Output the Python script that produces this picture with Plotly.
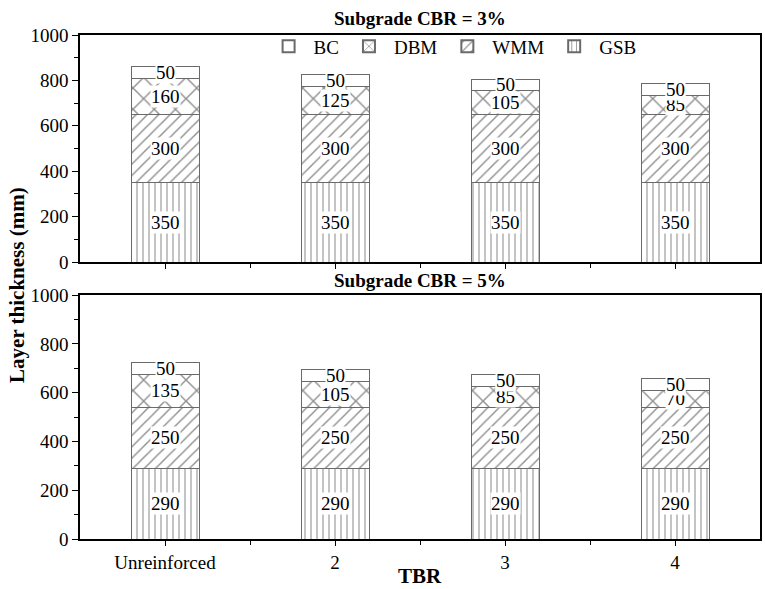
import plotly.graph_objects as go
from plotly.subplots import make_subplots

categories = ["Unreinforced", "2", "3", "4"]
layers = ["GSB", "WMM", "DBM", "BC"]
patterns = {"GSB": "|", "WMM": "/", "DBM": "x", "BC": ""}
pattern_sizes = {"GSB": 6, "WMM": 8, "DBM": 15, "BC": 8}

cbr3_gsb = [350, 350, 350, 350]
cbr3_wmm = [300, 300, 300, 300]
cbr3_dbm = [160, 125, 105, 85]
cbr3_bc = [50, 50, 50, 50]

cbr5_gsb = [290, 290, 290, 290]
cbr5_wmm = [250, 250, 250, 250]
cbr5_dbm = [135, 105, 85, 70]
cbr5_bc = [50, 50, 50, 50]

panels = [
    {"GSB": cbr3_gsb, "WMM": cbr3_wmm, "DBM": cbr3_dbm, "BC": cbr3_bc},
    {"GSB": cbr5_gsb, "WMM": cbr5_wmm, "DBM": cbr5_dbm, "BC": cbr5_bc},
]
panel_titles = ["Subgrade CBR = 3%", "Subgrade CBR = 5%"]

FONT = "Liberation Serif, Times New Roman, serif"
xpos = list(range(len(categories)))

fig = make_subplots(rows=2, cols=1, shared_xaxes=False, vertical_spacing=0.0)

annotations = []
for r, data in enumerate(panels, start=1):
    base = [0] * len(categories)
    for layer in layers:
        vals = data[layer]
        fig.add_trace(go.Bar(
            x=xpos, y=vals, name=layer, width=0.4,
            marker=dict(color="white", line=dict(color="#6a6a6a", width=1),
                        pattern=dict(shape=patterns[layer], fgcolor="#222222",
                                     bgcolor="white", size=pattern_sizes[layer], solidity=0.18)),
            showlegend=(r == 1), legendrank={"BC": 1, "DBM": 2, "WMM": 3, "GSB": 4}[layer],
        ), row=r, col=1)
        xref = "x" if r == 1 else "x2"
        yref = "y" if r == 1 else "y2"
        for i, v in enumerate(vals):
            annotations.append(dict(x=xpos[i], y=base[i] + v / 2, xref=xref, yref=yref,
                                    text=str(v), showarrow=False, bgcolor="white",
                                    borderpad=0, font=dict(family=FONT, size=19, color="black")))
            base[i] += v

# panel titles
annotations.append(dict(x=0.5, y=1.0, xref="paper", yref="paper", yanchor="bottom", yshift=4,
                        text="<b>" + panel_titles[0] + "</b>", showarrow=False,
                        font=dict(family=FONT, size=19, color="black")))
annotations.append(dict(x=0.5, y=0.484, xref="paper", yref="paper", yanchor="bottom", yshift=2,
                        text="<b>" + panel_titles[1] + "</b>", showarrow=False,
                        font=dict(family=FONT, size=19, color="black")))
annotations.append(dict(x=-0.092, y=0.505, xref="paper", yref="paper", textangle=-90,
                        xanchor="center", yanchor="middle",
                        text="<b>Layer thickness (mm)</b>", showarrow=False,
                        font=dict(family=FONT, size=21, color="black")))
annotations.append(dict(x=0.5, y=0, xref="paper", yref="paper", yanchor="top", yshift=-23,
                        text="<b>TBR</b>", showarrow=False,
                        font=dict(family=FONT, size=21, color="black")))

xcommon = dict(range=[-0.5, 3.5], showgrid=False, zeroline=False, showline=True,
               linecolor="black", linewidth=1.5, mirror=True, ticks="outside",
               ticklen=5, tickcolor="black", tickvals=xpos, ticktext=categories,
               minor=dict(tickvals=[0.5, 1.5, 2.5], ticks="outside", ticklen=4, tickcolor="black"),
               tickfont=dict(family=FONT, size=19, color="black"))
ycommon = dict(range=[0, 1000], showgrid=False, zeroline=False, showline=True,
               linecolor="black", linewidth=1.5, mirror=True, ticks="outside",
               ticklen=6, tickcolor="black", dtick=200, tick0=0,
               minor=dict(dtick=100, ticks="outside", ticklen=4, tickcolor="black"),
               tickfont=dict(family=FONT, size=19, color="black"))

fig.update_xaxes(**xcommon)
fig.update_xaxes(showticklabels=False, row=1, col=1)
fig.update_yaxes(**ycommon)
fig.update_layout(
    xaxis=dict(domain=[0, 1]),
    xaxis2=dict(domain=[0, 1]),
    yaxis=dict(domain=[0.5496, 1.0]),
    yaxis2=dict(domain=[0.0, 0.484]),
    yaxis3=dict(overlaying="y", side="right", anchor="x", range=[0, 1000], dtick=200,
                ticks="inside", ticklen=7, showticklabels=False, showgrid=False,
                zeroline=False, showline=False, tickcolor="black",
                minor=dict(dtick=100, ticks="inside", ticklen=4, tickcolor="black")),
    yaxis4=dict(overlaying="y2", side="right", anchor="x2", range=[0, 1000], dtick=200,
                ticks="inside", ticklen=7, showticklabels=False, showgrid=False,
                zeroline=False, showline=False, tickcolor="black",
                minor=dict(dtick=100, ticks="inside", ticklen=4, tickcolor="black")),
    xaxis3=dict(overlaying="x2", side="top", anchor="y2", range=[-0.5, 3.5],
                tickvals=xpos, ticks="inside", ticklen=8, showticklabels=False,
                showgrid=False, zeroline=False, showline=False, tickcolor="black",
                minor=dict(tickvals=[0.5, 1.5, 2.5], ticks="inside", ticklen=5, tickcolor="black")),
    barmode="stack",
    plot_bgcolor="white",
    paper_bgcolor="white",
    width=765, height=589,
    margin=dict(l=80, r=3, t=35, b=50),
    font=dict(family=FONT, color="black"),
    annotations=annotations,
    legend=dict(orientation="h", x=0.27, y=1.015, xanchor="left", yanchor="top",
                traceorder="normal", bgcolor="rgba(0,0,0,0)",
                font=dict(family=FONT, size=19, color="black"),
                itemwidth=40, itemsizing="constant"),
)

fig.write_html("out.html", config={"displayModeBar": False})

# remove default page margins so the 765x589 figure fits the window exactly
with open("out.html", "r", encoding="utf-8") as f:
    html = f.read()
html = html.replace("<head>", "<head><style>html,body{margin:0;padding:0;overflow:hidden;}</style>", 1)
with open("out.html", "w", encoding="utf-8") as f:
    f.write(html)
